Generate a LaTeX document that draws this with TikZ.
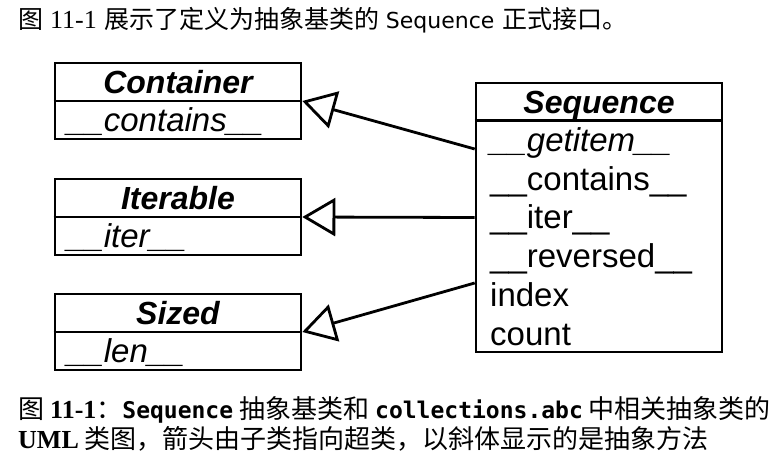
\documentclass[tikz,border=0pt]{standalone}
\usepackage{fontspec}
\setmainfont{Liberation Serif}
\newfontfamily\umlfont{Liberation Sans}
\newfontfamily\cjkfont{Noto Sans CJK SC}
\newfontfamily\capmono{DejaVu Sans Mono}
\newfontfamily\headsans{DejaVu Sans}
\usetikzlibrary{arrows.meta}
\begin{document}
\begin{tikzpicture}[x=1pt,y=-1pt,
  umlbox/.style={draw, line width=2.6pt, rectangle, minimum width=246pt, inner sep=0pt},
  divider/.style={line width=2.6pt},
  umltitle/.style={font=\umlfont\fontsize{32}{38}\selectfont\bfseries\itshape, anchor=base, inner sep=0pt},
  member/.style={font=\umlfont\fontsize{33}{38}\selectfont, anchor=base west, inner sep=0pt},
  absmember/.style={font=\umlfont\fontsize{33}{38}\selectfont\itshape, anchor=base west, inner sep=0pt},
  inherit/.style={line width=2.8pt, -{Triangle[open, length=33pt, width=38pt, line width=2.8pt, fill=white]}},
  textline/.style={anchor=base west, inner sep=0pt},
]
\useasboundingbox (0,0) rectangle (779,465);

% heading text
\node[textline, font=\cjkfont\fontsize{25}{28}\selectfont] (head) at (18,29)
  {图\hspace{7pt}{\rmfamily\fontsize{26}{28}\selectfont 11-1}\hspace{8pt}展示了定义为抽象基类的\hspace{6pt}{\headsans\fontsize{22}{28}\selectfont Sequence}\hspace{8pt}正式接口。};

% Container
\node[umlbox, minimum height=76pt] (cont) at (178,101) {};
\draw[divider] (cont.west) -- (cont.east);
\node[umltitle] (contT) at (178,93.5) {Container};
\node[absmember] (contM) at (67,131.5) {\_\_contains\_\_};

% Iterable
\node[umlbox, minimum height=76pt] (iter) at (178,217) {};
\draw[divider] (iter.west) -- (iter.east);
\node[umltitle] (iterT) at (178,209.5) {Iterable};
\node[absmember] (iterM) at (67,247.5) {\_\_iter\_\_};

% Sized
\node[umlbox, minimum height=76pt] (sized) at (178,332) {};
\draw[divider] (sized.west) -- (sized.east);
\node[umltitle] (sizedT) at (178,324.5) {Sized};
\node[absmember] (sizedM) at (67,362.5) {\_\_len\_\_};

% Sequence
\node[umlbox, minimum height=269pt] (seq) at (599,217.5) {};
\draw[divider] ([yshift=-39pt]seq.north west) -- ([yshift=-39pt]seq.north east);
\node[umltitle] (seqT) at (599,113.5) {Sequence};
\node[absmember] (seqM1) at (490,151.5) {\_\_getitem\_\_};
\node[member] (seqM2) at (490,190.5) {\_\_contains\_\_};
\node[member] (seqM3) at (490,229) {\_\_iter\_\_};
\node[member] (seqM4) at (490,267.5) {\_\_reversed\_\_};
\node[member] (seqM5) at (490,306) {index};
\node[member] (seqM6) at (490,345) {count};

% connectors
\coordinate (sA) at ([yshift=68.5pt]seq.west);
\coordinate (sC) at ([yshift=-65.5pt]seq.west);
\draw[inherit] (sA) -- (cont.east);
\draw[inherit] (seq.west) -- (iter.east);
\draw[inherit] (sC) -- (sized.east);

% caption
\node[textline, font=\cjkfont\fontsize{26}{30}\selectfont] (cap1) at (18,418)
  {图\hspace{6pt}{\rmfamily\bfseries\fontsize{26}{30}\selectfont 11-1}：{\capmono\bfseries\fontsize{23}{30}\selectfont Sequence}\hspace{6pt}抽象基类和\hspace{6pt}{\capmono\bfseries\fontsize{23}{30}\selectfont collections.abc}\hspace{6pt}中相关抽象类的};
\node[textline, font=\cjkfont\fontsize{26}{30}\selectfont] (cap2) at (18,448)
  {{\rmfamily\bfseries\fontsize{26}{30}\selectfont UML}\hspace{6pt}类图，箭头由子类指向超类，以斜体显示的是抽象方法};
\end{tikzpicture}
\end{document}
